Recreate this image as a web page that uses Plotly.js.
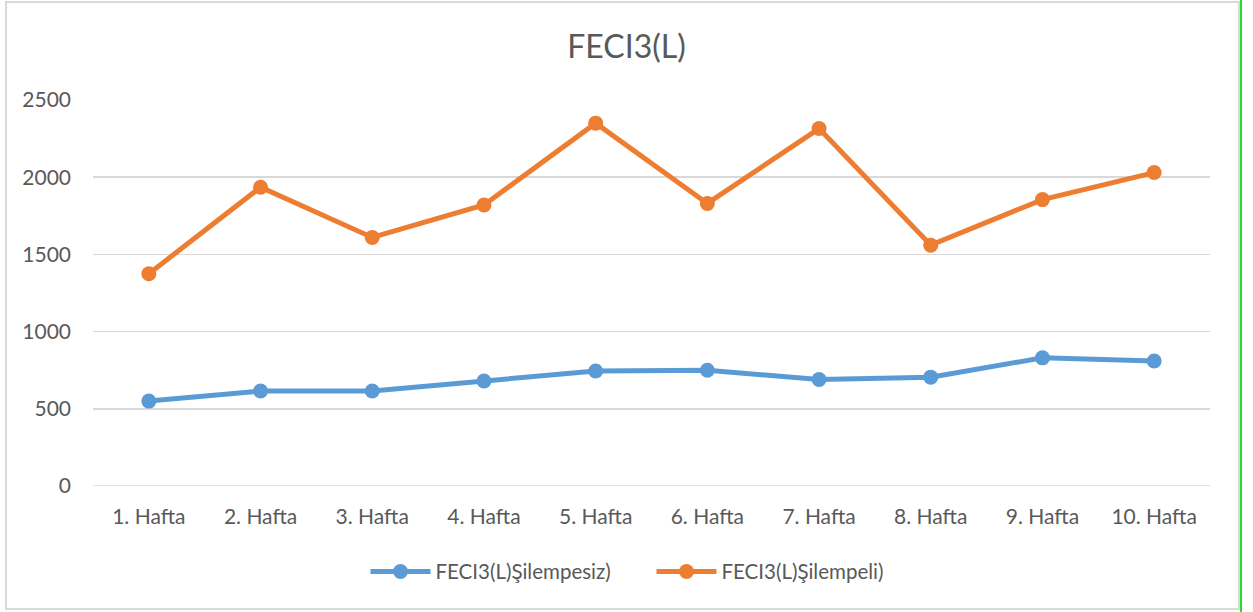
<!DOCTYPE html>
<html>
<head>
<meta charset="utf-8">
<script src="https://cdn.plot.ly/plotly-3.0.1.min.js"></script>
<style>
html,body{margin:0;padding:0;background:#fff;}
#wrap{position:relative;width:1253px;height:612px;}
#chart{position:absolute;left:0;top:0;width:1253px;height:612px;}
#frame{position:absolute;left:5px;top:1px;width:1231px;height:605px;border:2px solid #d9d9d9;pointer-events:none;}
#edge{position:absolute;left:1240px;top:0;width:2px;height:612px;background:#22e022;pointer-events:none;}
</style>
</head>
<body>
<div id="wrap">
<div id="chart"></div>
<div id="frame"></div>
<div id="edge"></div>
</div>
<script>
const categories = ["1. Hafta","2. Hafta","3. Hafta","4. Hafta","5. Hafta","6. Hafta","7. Hafta","8. Hafta","9. Hafta","10. Hafta"];
const silempesiz = [550, 615, 615, 680, 745, 750, 690, 705, 830, 810];
const silempeli = [1375, 1935, 1610, 1820, 2350, 1830, 2315, 1560, 1855, 2030];
const seriesNames = ["FECI3(L)Şilempesiz)", "FECI3(L)Şilempeli)"];
const titleText = "FECI3(L)";

const fontFam = "Lato, 'Open Sans', sans-serif";
const traces = [
  {x: categories, y: silempesiz, name: seriesNames[0], type: "scatter", mode: "lines+markers",
   line: {color: "#5b9bd5", width: 5}, marker: {color: "#5b9bd5", size: 15}},
  {x: categories, y: silempeli, name: seriesNames[1], type: "scatter", mode: "lines+markers",
   line: {color: "#ed7d31", width: 5}, marker: {color: "#ed7d31", size: 15}}
];
const layout = {
  width: 1253, height: 612,
  margin: {l: 93, r: 43, t: 100, b: 126},
  paper_bgcolor: "#fff", plot_bgcolor: "#fff",
  title: {text: titleText, font: {family: fontFam, size: 32, color: "#595959"}, x: 0.5, xanchor: "center", y: 0.923, yanchor: "middle"},
  xaxis: {type: "category", range: [-0.5, 9.5], showgrid: false, zeroline: false, showline: false, ticks: "",
          tickfont: {family: fontFam, size: 21, color: "#595959"}, ticklabelstandoff: 16},
  yaxis: {range: [0, 2500], dtick: 500, showgrid: true, gridcolor: "#d9d9d9", gridwidth: 1.5, zeroline: false,
          showline: false, ticks: "", tickfont: {family: fontFam, size: 21, color: "#595959"}, ticklabelstandoff: 21},
  showlegend: true,
  legend: {orientation: "h", x: 0.5, xanchor: "center", y: -0.17, yanchor: "top",
           font: {family: fontFam, size: 20.5, color: "#595959"}, itemwidth: 60,
           entrywidth: 211, entrywidthmode: "pixels"},
  shapes: [{type: "line", xref: "paper", yref: "y", x0: 0, x1: 1, y0: 0, y1: 0, line: {color: "#d9d9d9", width: 1.5}, layer: "below"}]
};
Plotly.newPlot("chart", traces, layout, {displayModeBar: false, staticPlot: true});
</script>
</body>
</html>
